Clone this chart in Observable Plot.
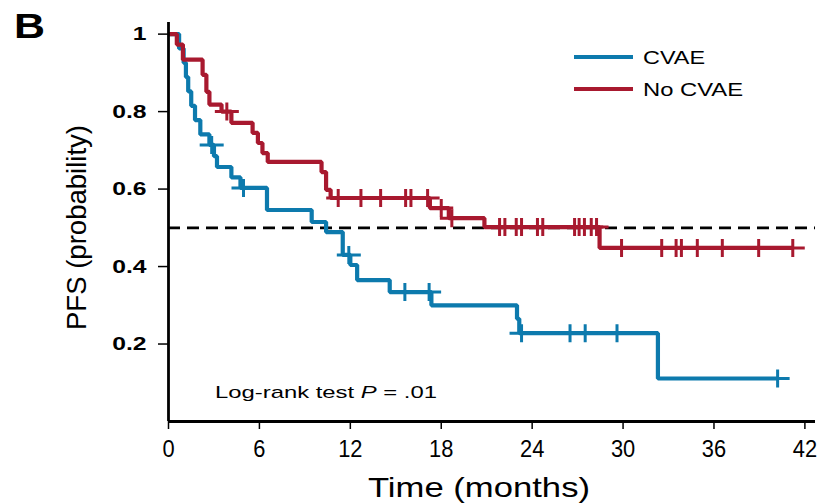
<!DOCTYPE html>
<html><head><meta charset="utf-8">
<script src="https://cdn.jsdelivr.net/npm/d3@7"></script>
<script src="https://cdn.jsdelivr.net/npm/@observablehq/plot@0.6"></script>
<style>
body{margin:0;background:#fff;}
#chart{position:relative;width:821px;height:504px;}
</style></head><body><div id="chart"></div>
<script>
// ---- data ----
const groups = ["CVAE", "No CVAE"];
const colors = ["#0d7aad", "#a8192f"];

const cvaeTimes = [0, 0.7, 1.0, 1.15, 1.3, 1.5, 1.75, 2.1, 2.7, 3.0, 3.2, 4.15, 4.75, 6.5, 9.45, 10.4, 11.5, 12.0, 12.45, 14.6, 17.35, 23.0, 23.15, 32.3, 40.2];
const cvaeSurv  = [1, 0.963, 0.926, 0.889, 0.852, 0.815, 0.778, 0.741, 0.714, 0.685, 0.657, 0.63, 0.603, 0.546, 0.515, 0.489, 0.43, 0.404, 0.365, 0.334, 0.30, 0.265, 0.228, 0.111, 0.111];
const cvaeCensor = [2.85, 4.95, 11.9, 15.6, 17.2, 23.3, 26.5, 27.5, 29.6, 40.2];

const noTimes = [0, 0.55, 0.95, 2.25, 2.5, 2.7, 3.5, 4.15, 5.55, 5.9, 6.2, 6.55, 10.1, 10.4, 10.7, 17.25, 18.5, 20.85, 28.45, 41.2];
const noSurv  = [1, 0.973, 0.934, 0.895, 0.851, 0.818, 0.80, 0.771, 0.745, 0.719, 0.693, 0.67, 0.644, 0.598, 0.577, 0.551, 0.525, 0.502, 0.448, 0.448];
const noCensor = [3.85, 11.2, 12.7, 14.0, 15.65, 16.0, 17.1, 18.0, 18.7, 21.85, 22.2, 22.95, 23.3, 24.35, 24.7, 26.8, 27.1, 27.45, 27.9, 28.25, 29.9, 32.55, 33.5, 33.85, 34.9, 36.55, 38.95, 41.2];

const xTicks = [0, 6, 12, 18, 24, 30, 36, 42];
const yTicks = [0.2, 0.4, 0.6, 0.8, 1];
const yTickLabels = ["0.2", "0.4", "0.6", "0.8", "1"];
const referenceLevel = [0.5];
const panelLabel = "B";
const xTitle = "Time (months)";
const yTitle = "PFS (probability)";
const pValue = ".01";

// ---- derived tables ----
function stepRows(times, surv, group) { return times.map((t, i) => ({t, s: surv[i], group})); }
function survAt(times, surv, t) { let s = surv[0]; times.forEach((tt, i) => { if (tt <= t) s = surv[i]; }); return s; }
function censorRows(cens, times, surv, group) { return cens.map(t => ({t, s: survAt(times, surv, t), group})); }

const cvaeSteps = stepRows(cvaeTimes, cvaeSurv, groups[0]);
const noSteps = stepRows(noTimes, noSurv, groups[1]);
const cvaeMarks = censorRows(cvaeCensor, cvaeTimes, cvaeSurv, groups[0]);
const noMarks = censorRows(noCensor, noTimes, noSurv, groups[1]);

const plusSymbol = { draw(ctx) { ctx.moveTo(-12, 0); ctx.lineTo(12, 0); ctx.moveTo(0, -9); ctx.lineTo(0, 9); } };

const lineOpts = {x: "t", y: "s", stroke: "group", curve: "step-after", strokeWidth: 4.2, strokeLinejoin: "miter", strokeLinecap: "butt"};
const dotOpts = {x: "t", y: "s", stroke: "group", symbol: plusSymbol, strokeWidth: 3, fill: "none"};

const chart = Plot.plot({
  width: 821, height: 504,
  marginLeft: 168, marginRight: 6, marginTop: 22, marginBottom: 83,
  style: {fontFamily: "'Liberation Sans', Arial, sans-serif", background: "white", color: "black"},
  x: {domain: [0, 42.7]},
  y: {domain: [0, 1.03]},
  color: {domain: groups, range: colors},
  marks: [
    Plot.ruleY(referenceLevel, {stroke: "black", strokeWidth: 2.8, strokeDasharray: "12,7"}),
    Plot.line(cvaeSteps, lineOpts),
    Plot.dot(cvaeMarks, dotOpts),
    Plot.line(noSteps, lineOpts),
    Plot.dot(noMarks, dotOpts),
    Plot.axisY(yTicks, {tickSize: 10, tickPadding: 12, strokeWidth: 1.5, fontSize: 19, fontWeight: "bold",
      tickFormat: d => yTickLabels[yTicks.indexOf(d)], label: null}),
    Plot.axisX(xTicks, {tickSize: 8, tickPadding: 11, strokeWidth: 1.5, fontSize: 23, label: null}),
    Plot.ruleX([0], {strokeWidth: 2.8}),
    Plot.ruleY([0], {strokeWidth: 2.8})
  ]
});

document.getElementById("chart").appendChild(chart);
const svg = d3.select(chart);

// stretch y tick labels to the reference's wider glyphs
svg.selectAll('g[aria-label="y-axis tick label"] text').each(function() {
  const w = this.getComputedTextLength();
  d3.select(this).attr("textLength", w * 1.3).attr("lengthAdjust", "spacingAndGlyphs");
});
svg.selectAll('g[aria-label="x-axis tick label"] text').each(function() {
  const w = this.getComputedTextLength();
  d3.select(this).attr("textLength", w * 0.95).attr("lengthAdjust", "spacingAndGlyphs");
});

const ff = "'Liberation Sans', Arial, sans-serif";
function addText(txt, x, y, size, len, opts = {}) {
  const t = svg.append("text").attr("x", x).attr("y", y).attr("font-family", ff).attr("font-size", size)
    .attr("text-anchor", "start").attr("fill", "black").text(txt);
  if (len) t.attr("textLength", len).attr("lengthAdjust", "spacingAndGlyphs");
  for (const k in opts) t.attr(k, opts[k]);
  return t;
}

addText(panelLabel, 14, 38, 35, 31, {"font-weight": "bold"});
addText(xTitle, 368, 497, 28, 222);
addText(yTitle, 0, 0, 28, 205, {"transform": "translate(86,330) rotate(-90)"});

// legend
groups.forEach((g, i) => {
  const y = [57, 89][i];
  svg.append("line").attr("x1", 574).attr("x2", 633).attr("y1", y).attr("y2", y)
    .attr("stroke", colors[i]).attr("stroke-width", 3.8);
  addText(g, 643, y + 7, 19, [62, 100][i]);
});

// log-rank note
const note = addText("", 215, 398, 17, 222);
note.append("tspan").text("Log-rank test ");
note.append("tspan").attr("font-style", "italic").text("P");
note.append("tspan").text(" = " + pValue);
</script></body></html>
